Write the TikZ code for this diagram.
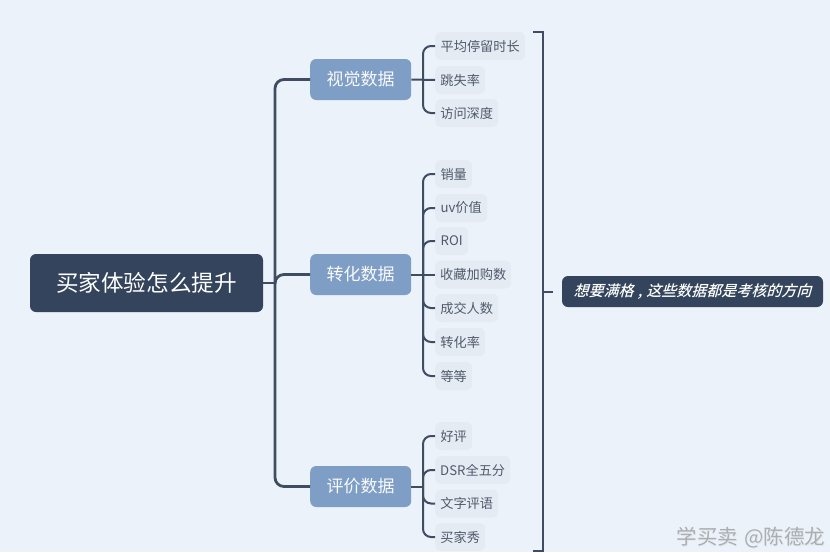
\documentclass[tikz,border=0pt]{standalone}
\usepackage{fontspec}
\setmainfont{Noto Sans CJK SC}
\newfontfamily\slantcjk[FakeSlant=0.28]{Noto Sans CJK SC Medium}
\definecolor{bgc}{HTML}{EBF2FA}
\definecolor{rootc}{HTML}{33445C}
\definecolor{branchc}{HTML}{7F9EC6}
\definecolor{leafc}{HTML}{E5EBF2}
\definecolor{leaftext}{HTML}{4F5B6C}
\definecolor{linec}{HTML}{3F4D62}
\definecolor{markc}{HTML}{A9AEB4}
\newcommand{\tx}[1]{\raisebox{-1pt}{#1}}
\newcommand{\txb}[1]{\raisebox{-2pt}{#1}}
\tikzset{
  x=1pt,y=-1pt,
  rootbox/.style={fill=rootc,text=white,rounded corners=6pt,minimum width=233pt,minimum height=58pt,inner sep=0pt,font=\fontsize{22.6}{24}\selectfont},
  branchbox/.style={fill=branchc,text=white!95!branchc,rounded corners=6pt,minimum width=101pt,minimum height=41pt,inner sep=0pt,anchor=west,font=\fontsize{17}{20}\selectfont},
  leafbox/.style={fill=leafc,text=leaftext,rounded corners=6pt,minimum height=28pt,inner sep=0pt,anchor=west,font=\fontsize{13.2}{15}\selectfont},
  notebox/.style={fill=rootc,text=white,rounded corners=6pt,minimum width=261pt,minimum height=31pt,inner sep=0pt,font=\fontsize{15}{17}\slantcjk},
  trunkline/.style={draw=linec,line width=2.8pt,rounded corners=9pt},
  leafline/.style={draw=linec,line width=2pt,rounded corners=8pt},
  bracketline/.style={draw=linec,line width=2pt},
  markfont/.style={inner sep=0pt,font=\fontsize{20.5}{22}\selectfont},
}
\begin{document}
\begin{tikzpicture}
\fill[bgc] (0,0) rectangle (830,552);
\useasboundingbox (0,0) rectangle (830,552);
\node[rootbox] (root) at (146.5,283) {\tx{买家体验怎么提升}};
\node[branchbox] (b1) at (310,79.5) {\txb{视觉数据}};
\node[branchbox] (b2) at (310,274.5) {\txb{转化数据}};
\node[branchbox] (b3) at (310,486.5) {\txb{评价数据}};
\node[leafbox,minimum width=90pt] (a1) at (435,46) {\tx{平均停留时长}};
\node[leafbox,minimum width=50pt] (a2) at (435,80) {\tx{跳失率}};
\node[leafbox,minimum width=63pt] (a3) at (435,113) {\tx{访问深度}};
\node[leafbox,minimum width=37pt] (c1) at (435,174) {\tx{销量}};
\node[leafbox,minimum width=52pt] (c2) at (435,208) {\tx{uv价值}};
\node[leafbox,minimum width=33pt] (c3) at (435,241) {\tx{ROI}};
\node[leafbox,minimum width=76pt] (c4) at (435,274.5) {\tx{收藏加购数}};
\node[leafbox,minimum width=63pt] (c5) at (435,308) {\tx{成交人数}};
\node[leafbox,minimum width=50pt] (c6) at (435,342) {\tx{转化率}};
\node[leafbox,minimum width=37pt] (c7) at (435,376) {\tx{等等}};
\node[leafbox,minimum width=37pt] (d1) at (435,436) {\tx{好评}};
\node[leafbox,minimum width=75pt] (d2) at (435,470) {\tx{DSR全五分}};
\node[leafbox,minimum width=63pt] (d3) at (435,503.5) {\tx{文字评语}};
\node[leafbox,minimum width=50pt] (d4) at (435,537) {\tx{买家秀}};
\node[notebox] (note) at (692.5,291.5) {\tx{想要满格\makebox[13pt]{,}这些数据都是考核的方向}};
\coordinate (trunk) at (275,283);
\coordinate (s1) at (423,79.5);
\coordinate (s2) at (423,274.5);
\coordinate (s3) at (423,486.5);
\draw[trunkline] (root.east) -- (trunk);
\draw[trunkline] (trunk) |- (b1.west);
\draw[trunkline] (trunk) |- (b2.west);
\draw[trunkline] (trunk) |- (b3.west);
\draw[leafline] (b1.east) -- (a2.west);
\draw[leafline] (s1) |- (a1.west);
\draw[leafline] (s1) |- (a3.west);
\draw[leafline] (b2.east) -- (c4.west);
\foreach \n in {c1,c2,c3,c5,c6,c7} \draw[leafline] (s2) |- (\n.west);
\draw[leafline] (b3.east) -- (s3);
\foreach \n in {d1,d2,d3,d4} \draw[leafline] (s3) |- (\n.west);
\coordinate (btop) at (533,32);
\coordinate (bbot) at (533,550.5);
\coordinate (bmid) at (543,292);
\draw[bracketline] (btop) -| (bmid) |- (bbot);
\draw[bracketline] (bmid) -- (553,292);
\node[markfont,text=white!70!markc] (markhi) at (751.8,538.8) {学买卖\hspace{2pt} @陈德龙};
\node[markfont,text=markc] (mark) at (751,538) {学买卖\hspace{2pt} @陈德龙};
\end{tikzpicture}
\end{document}
